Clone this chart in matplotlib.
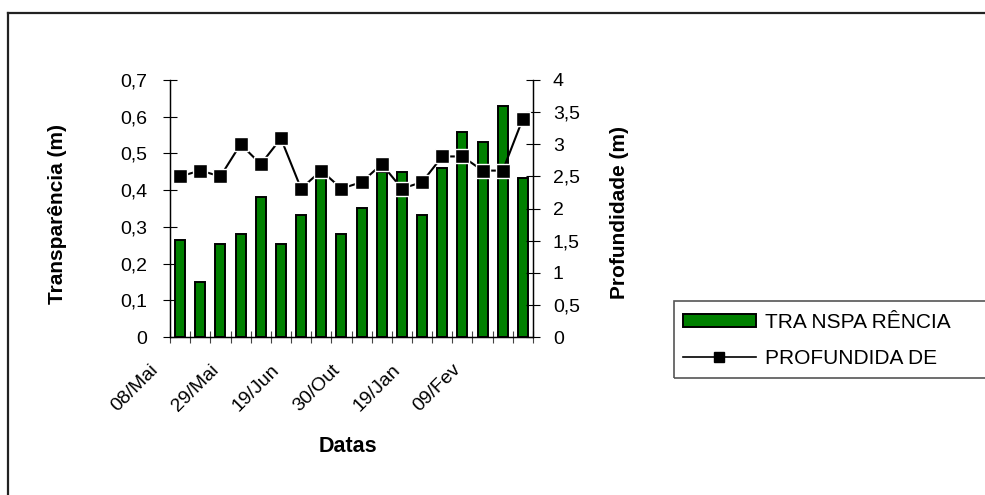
import numpy as np
import matplotlib.pyplot as plt
from matplotlib.patches import Rectangle
from matplotlib.lines import Line2D
from matplotlib.ticker import FuncFormatter, MultipleLocator

plt.rcParams['font.family'] = ['Liberation Sans', 'DejaVu Sans']

# dados (18 coletas, so 6 datas aparecem no eixo)
datas = ['08/Mai', '', '', '29/Mai', '', '', '19/Jun', '', '', '30/Out', '', '',
         '19/Jan', '', '', '09/Fev', '', '']
transparencia = [0.264, 0.150, 0.253, 0.281, 0.380, 0.253, 0.331, 0.446, 0.281,
                 0.352, 0.450, 0.450, 0.331, 0.460, 0.559, 0.532, 0.628, 0.433]
profundidade = [2.50, 2.59, 2.50, 3.00, 2.69, 3.09, 2.31, 2.59, 2.31,
                2.41, 2.69, 2.31, 2.41, 2.81, 2.81, 2.59, 2.59, 3.40]

def virgula(v, pos):
    s = ('%.1f' % v).rstrip('0').rstrip('.')
    return s.replace('.', ',')

fig = plt.figure(figsize=(9.85, 4.95), dpi=100)
ax = fig.add_axes([170/985, 1-337/495, 363/985, 257/495])
ax2 = ax.twinx()

ind = np.arange(len(transparencia))
bars = ax.bar(ind, transparencia, 0.5, color='#008000', edgecolor='black', linewidth=1.4, zorder=2)
line, = ax2.plot(ind, profundidade, color='black', lw=1.5, marker='s', ms=9.5,
                 mfc='black', mec='white', mew=1.0, zorder=3)
ax.set_zorder(1)
ax2.set_zorder(2)

ax.set_xlim(-0.5, len(ind) - 0.5)
ax.set_ylim(0, 0.7)
ax2.set_ylim(0, 4)

ax.yaxis.set_major_locator(MultipleLocator(0.1))
ax2.yaxis.set_major_locator(MultipleLocator(0.5))
ax.yaxis.set_major_formatter(FuncFormatter(virgula))
ax2.yaxis.set_major_formatter(FuncFormatter(virgula))

ax.set_xticks(np.arange(len(ind) + 1) - 0.5)
ax.set_xticklabels([])
ax.tick_params(axis='x', direction='inout', length=8.5, width=0.8, color='#444444')
ax.tick_params(axis='y', direction='inout', length=10, width=0.8, pad=11.5, labelsize=14)
ax2.tick_params(axis='y', direction='inout', length=10, width=0.8, pad=9.4, labelsize=14)

for a in (ax, ax2):
    a.spines['top'].set_visible(False)
    for s in a.spines.values():
        s.set_linewidth(0.9)

# rotulos das datas, como no Excel
for i, d in enumerate(datas):
    if d:
        ax.annotate(d, xy=(i, 0), xycoords=('data', 'axes fraction'),
                    xytext=(-24, -30), textcoords='offset pixels',
                    rotation=45, rotation_mode='anchor', ha='right', va='center',
                    fontsize=14)

ax.set_ylabel('Transparência (m)', fontsize=15, fontweight='bold', va='center')
ax.yaxis.set_label_coords(-0.311, 0.479)
ax2.set_ylabel('Profundidade (m)', fontsize=15, fontweight='bold', va='center', rotation=90)
ax2.yaxis.set_label_coords(1.237, 0.486)
ax.set_xlabel('Datas', fontsize=15.5, fontweight='bold', va='center')
ax.xaxis.set_label_coords(0.490, -0.428)

# legenda
h1 = Rectangle((0, 0), 1, 1, facecolor='#008000', edgecolor='black', linewidth=1.4)
h2 = Line2D([], [], color='black', lw=1.2, marker='s', ms=7, mfc='black', mec='black')
fig.legend([h1, h2], ['TRA NSPA RÊNCIA', 'PROFUNDIDA DE'], loc='upper left',
           bbox_to_anchor=(683/985, 1-313/495), frameon=False, fontsize=15,
           handlelength=3.5, handleheight=0.6, handletextpad=0.45,
           labelspacing=0.8, borderpad=0, borderaxespad=0)
fig.patches.append(Rectangle((674/985, 1-378/495), 320/985, 77/495, transform=fig.transFigure,
                             fill=False, edgecolor='#555555', linewidth=1.2, clip_on=False))

# moldura do grafico
fig.add_artist(Line2D([8/985, 1.0], [1-12.5/495, 1-12.5/495], transform=fig.transFigure,
                      color='#222222', lw=1.6))
fig.add_artist(Line2D([8/985, 8/985], [0, 1-12.5/495], transform=fig.transFigure,
                      color='#222222', lw=1.6))

plt.savefig('out.png', dpi=100)
